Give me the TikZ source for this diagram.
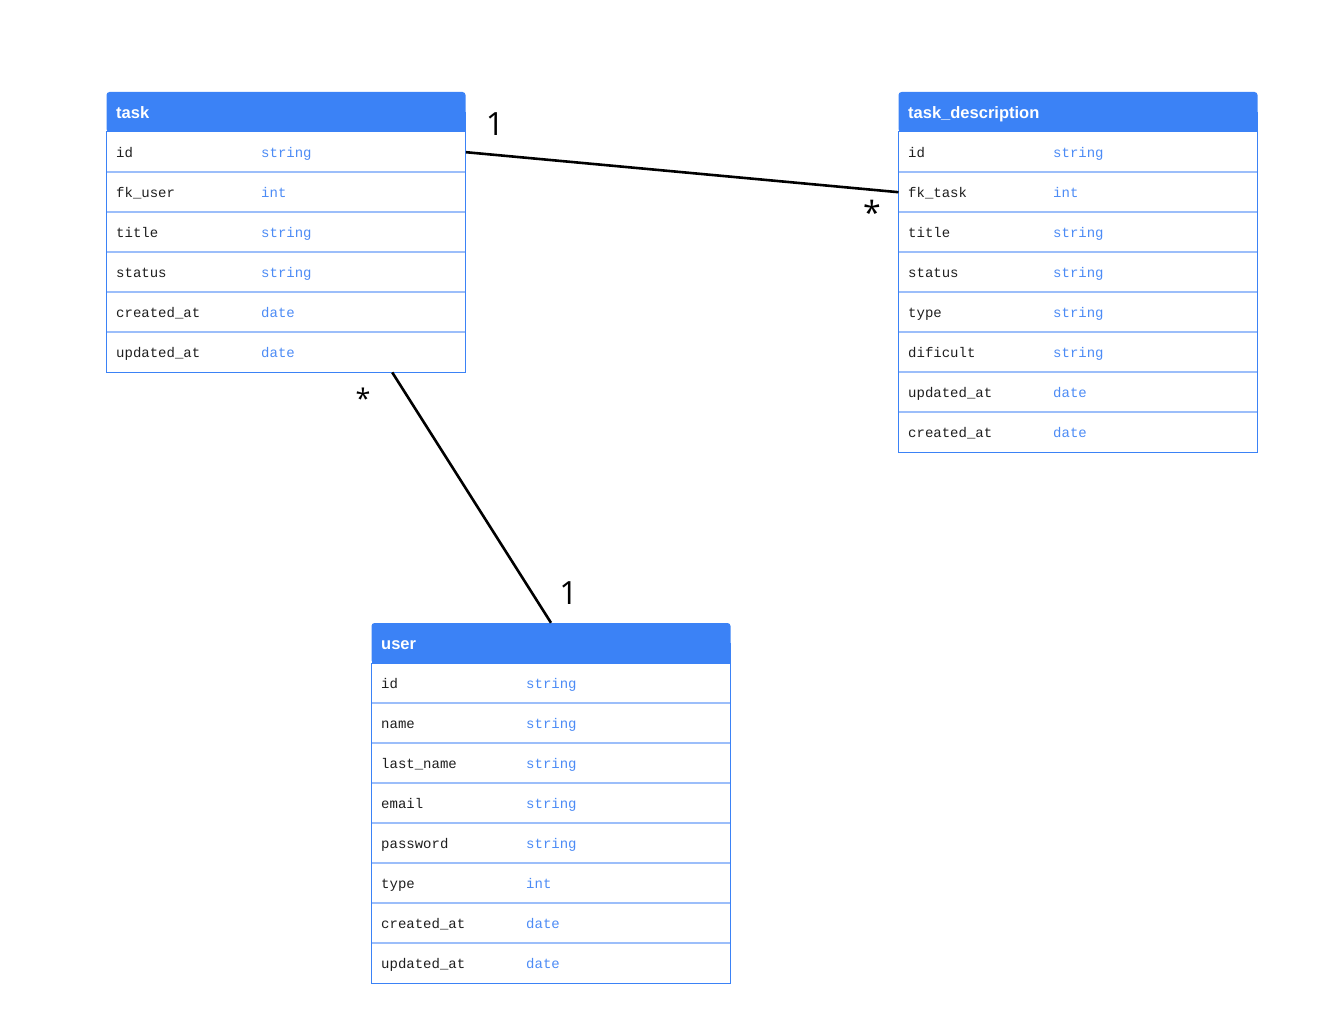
\documentclass[tikz,border=0pt]{standalone}
\usepackage{fontspec}
\setmainfont{Liberation Sans}
\setmonofont{Liberation Mono}
\newfontfamily\multfont{Open Sans}
\usetikzlibrary{calc}

\definecolor{hdrblue}{HTML}{3B82F6}
\definecolor{seplight}{HTML}{9CBEFA}
\definecolor{typeblue}{HTML}{4C8BF5}
\definecolor{fieldink}{HTML}{1E1E1E}

\tikzset{
  x=1pt, y=-1pt,
  hdrbox/.style={minimum width=359pt, minimum height=40pt, inner sep=0pt},
  hdrtext/.style={anchor=mid west, inner sep=0pt, text=white,
    font=\fontsize{16.5}{19}\selectfont\bfseries},
  rowbox/.style={minimum width=359pt, minimum height=40pt, inner sep=0pt, anchor=north west},
  fieldtext/.style={anchor=mid west, inner sep=0pt, text=fieldink,
    font=\fontsize{14}{16}\selectfont\ttfamily},
  typetext/.style={anchor=mid west, inner sep=0pt, text=typeblue,
    font=\fontsize{14}{16}\selectfont\ttfamily},
  rowsep/.style={draw=seplight, line width=1.4pt},
  frame/.style={draw=hdrblue, line width=1pt},
  rel/.style={draw=black, line width=2.6pt},
  mult/.style={inner sep=0pt, text=black},
}

% #1 name, #2 left x, #3 top y, #4 title, #5 number of rows, #6 field/type list
\newcommand\ertable[6]{%
  \fill[hdrblue, rounded corners=3pt] (#2,#3) rectangle ++(359,40);
  \fill[hdrblue] (#2,#3+20) rectangle ++(359,20);
  \node[hdrbox] (#1) at (#2+179.5,#3+20) {};
  \node[hdrtext] (#1-title) at (#2+9.5,#3+23.5) {#4};
  \foreach \fld/\typ [count=\i] in {#6} {
    \node[rowbox] (#1-\i) at (#2,#3+40*\i) {};
    \node[fieldtext] (#1-\i-f) at (#2+9.5,#3+40*\i+23) {\fld};
    \node[typetext] (#1-\i-t) at (#2+154.5,#3+40*\i+23) {\typ};
    \ifnum\i>1
      \draw[rowsep] (#1-\i.north west) -- (#1-\i.north east);
    \fi
  }
  \draw[frame] (#2,#3+40) rectangle (#2+359,#3+40+40*#5);
}

\begin{document}
\begin{tikzpicture}
\useasboundingbox (0,0) rectangle (1342,1027);

\ertable{task}{106.5}{92}{task}{6}{id/string, fk\_user/int, title/string,
  status/string, created\_at/date, updated\_at/date}

\ertable{td}{898.5}{92}{task\_description}{8}{id/string, fk\_task/int,
  title/string, status/string, type/string, dificult/string,
  updated\_at/date, created\_at/date}

\ertable{user}{371.5}{623}{user}{8}{id/string, name/string,
  last\_name/string, email/string, password/string, type/int,
  created\_at/date, updated\_at/date}

% relationships
\draw[rel] (task-1.east) -- (td-2.west);
\coordinate (taskfoot) at ($(task-6.south west)!0.795!(task-6.south east)$);
\draw[rel] (taskfoot) -- (user.north);

% multiplicities
\node[mult, font=\multfont\fontsize{32}{36}\selectfont] (m1) at (495,124) {1};
\node[mult, font=\multfont\fontsize{32}{36}\selectfont] (m2) at (872,212.5) {*};
\node[mult, font=\multfont\fontsize{27}{30}\selectfont] (m3) at (363,398) {*};
\node[mult, font=\multfont\fontsize{32}{36}\selectfont] (m4) at (568.5,593.5) {1};
\end{tikzpicture}
\end{document}
